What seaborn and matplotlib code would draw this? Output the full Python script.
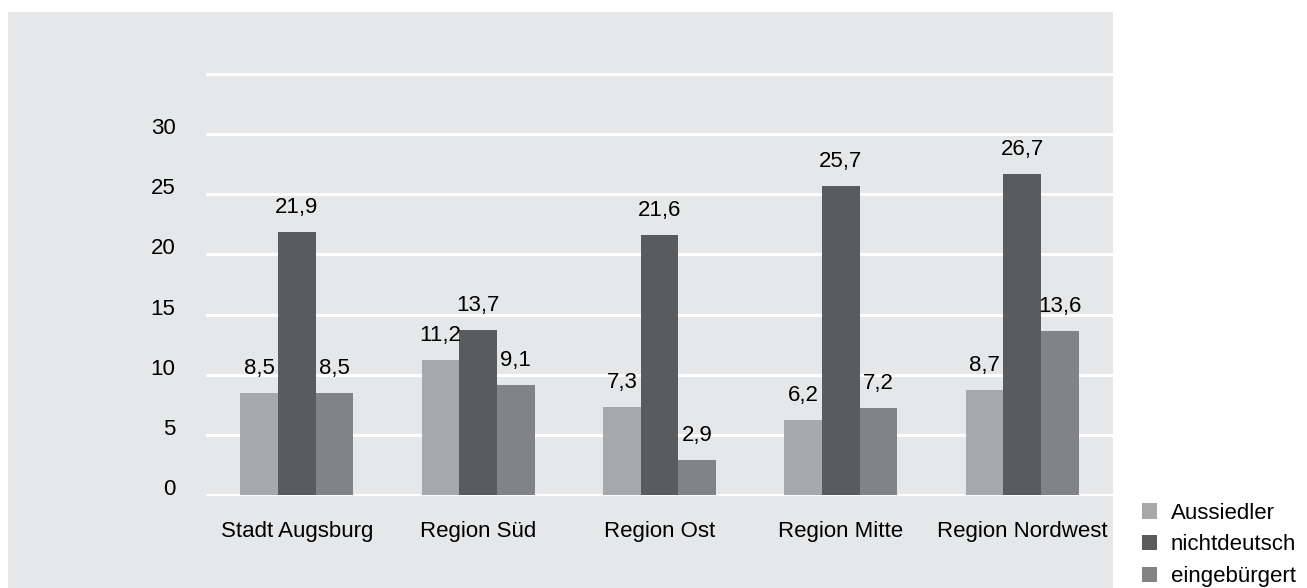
import seaborn as sns
import pandas as pd
import numpy as np
import matplotlib.pyplot as plt
from matplotlib.patches import Rectangle, Patch

regions = ['Stadt Augsburg', 'Region Süd', 'Region Ost', 'Region Mitte', 'Region Nordwest']
groups = ['Aussiedler', 'nichtdeutsch', 'eingebürgert']
aussiedler = [8.5, 11.2, 7.3, 6.2, 8.7]
nichtdeutsch = [21.9, 13.7, 21.6, 25.7, 26.7]
eingebuergert = [8.5, 9.1, 2.9, 7.2, 13.6]
yticks = [0, 5, 10, 15, 20, 25, 30, 35]
colors = ['#a7a8aa', '#5a5b5d', '#828385']
bg = '#e6e7e8'

rows = []
for g, vals in zip(groups, [aussiedler, nichtdeutsch, eingebuergert]):
    for r, v in zip(regions, vals):
        rows.append({'Region': r, 'Gruppe': g, 'Wert': v})
df = pd.DataFrame(rows)

sns.set_style('white')
plt.rcParams['font.family'] = ['Liberation Sans', 'DejaVu Sans']
plt.rcParams['font.size'] = 16
plt.rcParams['text.color'] = 'black'
plt.rcParams['xtick.color'] = 'black'
plt.rcParams['ytick.color'] = 'black'

fig = plt.figure(figsize=(13.07, 5.88), dpi=100)
fig.add_artist(Rectangle((8 / 1307, 0), (1113 - 8) / 1307, (588 - 12) / 588,
                         transform=fig.transFigure, facecolor=bg, edgecolor='none', zorder=-5))
ax = fig.add_axes([206 / 1307, 92 / 588, (1113 - 206) / 1307, (496 - 73) / 588])
ax.set_facecolor('none')

sns.barplot(data=df, x='Region', y='Wert', hue='Gruppe', palette=colors,
            width=0.623, gap=0, saturation=1, linewidth=0, ax=ax, legend=False)

for cont, vals in zip(ax.containers, [aussiedler, nichtdeutsch, eingebuergert]):
    ax.bar_label(cont, labels=[f'{v:.1f}'.replace('.', ',') for v in vals],
                 padding=10, fontsize=16, color='black')

ax.set_xlim(-0.5, 4.5)
ax.set_ylim(-0.12, 35.12)
ax.set_yticks(yticks)
ax.set_yticklabels([str(t) if t < 35 else '' for t in yticks], va='baseline')
ax.yaxis.grid(True, color='white', linewidth=2.2)
ax.set_axisbelow(True)
ax.tick_params(axis='y', length=0, pad=22, labelsize=16)
ax.tick_params(axis='x', length=0, pad=18, labelsize=16)
ax.set_xlabel('')
ax.set_ylabel('')
for s in ax.spines.values():
    s.set_visible(False)

handles = [Patch(facecolor=c, edgecolor='none') for c in colors]
fig.legend(handles, groups, loc='upper left', bbox_to_anchor=(1131 / 1307, 0.164),
           frameon=False, borderpad=0, handlelength=0.68, handleheight=0.68,
           handletextpad=0.62, labelspacing=0.48, fontsize=16)

plt.savefig('out.png', dpi=100)
plt.close('all')
